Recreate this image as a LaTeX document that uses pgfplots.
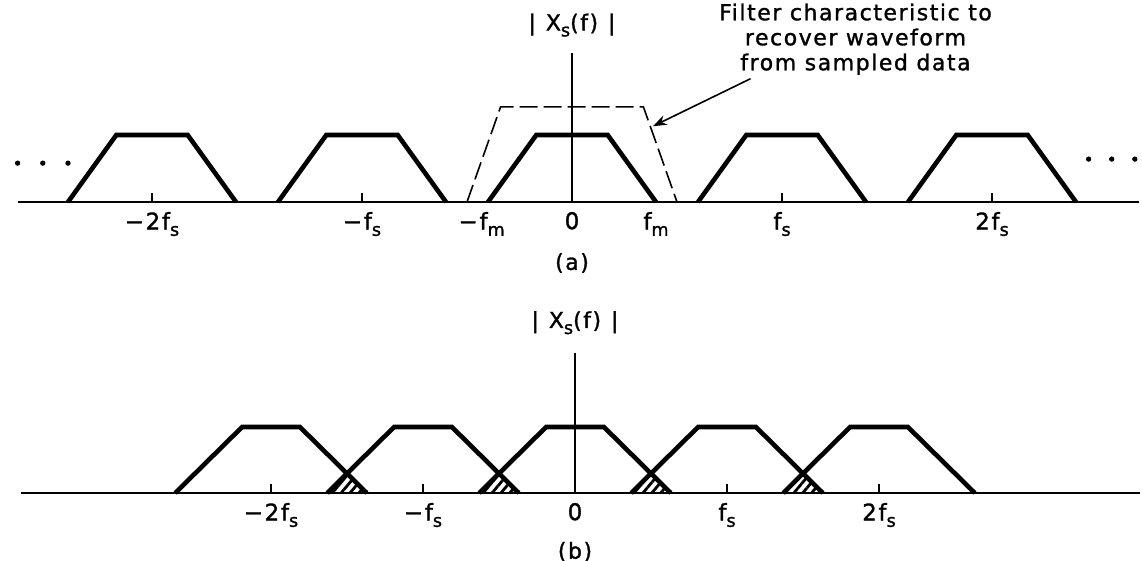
\documentclass[border=0pt]{standalone}
\usepackage{fontspec}
\setmainfont{DejaVu Sans}[LetterSpace=7, FakeBold=1.3]
\usepackage{pgfplots}
\pgfplotsset{compat=1.18}
\usetikzlibrary{patterns.meta,arrows.meta}

\newcommand{\lbl}{\fontsize{11bp}{12.5bp}\selectfont}
\newcommand{\ticklbl}{\fontsize{11.5bp}{13bp}\selectfont}
\newcommand{\sub}[1]{\raisebox{-0.5ex}{\fontsize{8.8bp}{9bp}\selectfont #1}}

\pgfplotsset{
  spectrum/.style={
    axis lines=middle,
    axis line style={-, line width=1bp},
    ytick=\empty,
    tick align=inside,
    major tick length=4.5bp,
    tick style={black, line width=1bp},
    hide obscured x ticks=false,
    clip=false,
    xticklabel style={font=\ticklbl, yshift=-1.5bp},
  },
  trap/.style={black, line width=2.3bp, line join=miter, mark=none},
  alias/.style={draw=none, pattern={Lines[angle=50,distance=3.4bp,line width=1.4bp]}},
}

\begin{document}
\begin{tikzpicture}
\useasboundingbox (0,0) rectangle (571bp,280.5bp);

% (a) sampled spectrum, no overlap
\begin{axis}[spectrum,
  x=105bp, y=33.5bp, anchor=origin, at={(286bp,179.5bp)},
  xmin=-2.64, xmax=2.70, ymin=0, ymax=2.22,
  xtick={-2,-1,1,2},
  xticklabels={{−2f\sub{s}},{−f\sub{s}},{f\sub{s}},{2f\sub{s}}},
  extra x ticks={-0.43,0,0.40},
  extra x tick labels={{−f\sub{m}},{0},{f\sub{m}}},
  extra x tick style={major tick length=0pt},
]
\addplot[trap] coordinates {(-2.40,0) (-2.17,1) (-1.83,1) (-1.60,0)};
\addplot[trap] coordinates {(-1.40,0) (-1.17,1) (-0.83,1) (-0.60,0)};
\addplot[trap] coordinates {(-0.40,0) (-0.17,1) (0.17,1) (0.40,0)};
\addplot[trap] coordinates {(0.60,0) (0.83,1) (1.17,1) (1.40,0)};
\addplot[trap] coordinates {(1.60,0) (1.83,1) (2.17,1) (2.40,0)};
% reconstruction filter
\addplot[black, line width=0.8bp, dash pattern=on 9bp off 3bp, mark=none]
  coordinates {(-0.50,0) (-0.34,1.42) (0.34,1.42) (0.50,0)};
% continuation dots
\addplot[only marks, mark=*, mark size=1.1bp, black]
  coordinates {(-2.64,0.58) (-2.52,0.58) (-2.40,0.58)};
\addplot[only marks, mark=*, mark size=1.1bp, black]
  coordinates {(2.46,0.64) (2.57,0.64) (2.68,0.64)};
\node[font=\lbl] at (axis cs:0,2.64) {|\hspace{0.45em}X\sub{s}(f)\hspace{0.45em}|};
\node[font=\lbl] at (axis cs:0,-0.91) {(a)};
\node[font=\lbl, align=center] at (axis cs:1.35,2.43)
  {Filter characteristic to\\recover waveform\\from sampled data};
\draw[-{Stealth[length=7bp,width=5bp]}, line width=0.8bp]
  (axis cs:0.85,1.84) -- (axis cs:0.385,1.13);
\end{axis}

% (b) sampled spectrum with aliasing
\begin{axis}[spectrum,
  x=76bp, y=33bp, anchor=origin, at={(287.5bp,34bp)},
  xmin=-3.645, xmax=3.717, ymin=0, ymax=2.12,
  xtick={-2,-1,1,2},
  xticklabels={{−2f\sub{s}},{−f\sub{s}},{f\sub{s}},{2f\sub{s}}},
  extra x ticks={0},
  extra x tick labels={{0}},
  extra x tick style={major tick length=0pt},
]
% aliased (overlapping) regions
\addplot[alias] coordinates {(-1.63,0) (-1.50,0.295) (-1.37,0)} \closedcycle;
\addplot[alias] coordinates {(-0.63,0) (-0.50,0.295) (-0.37,0)} \closedcycle;
\addplot[alias] coordinates {(0.37,0) (0.50,0.295) (0.63,0)} \closedcycle;
\addplot[alias] coordinates {(1.37,0) (1.50,0.295) (1.63,0)} \closedcycle;
\addplot[trap] coordinates {(-2.63,0) (-2.19,1) (-1.81,1) (-1.37,0)};
\addplot[trap] coordinates {(-1.63,0) (-1.19,1) (-0.81,1) (-0.37,0)};
\addplot[trap] coordinates {(-0.63,0) (-0.19,1) (0.19,1) (0.63,0)};
\addplot[trap] coordinates {(0.37,0) (0.81,1) (1.19,1) (1.63,0)};
\addplot[trap] coordinates {(1.37,0) (1.81,1) (2.19,1) (2.63,0)};
\node[font=\lbl] at (axis cs:0,2.58) {|\hspace{0.45em}X\sub{s}(f)\hspace{0.45em}|};
\node[font=\lbl] at (axis cs:0,-0.89) {(b)};
\end{axis}
\end{tikzpicture}
\end{document}
